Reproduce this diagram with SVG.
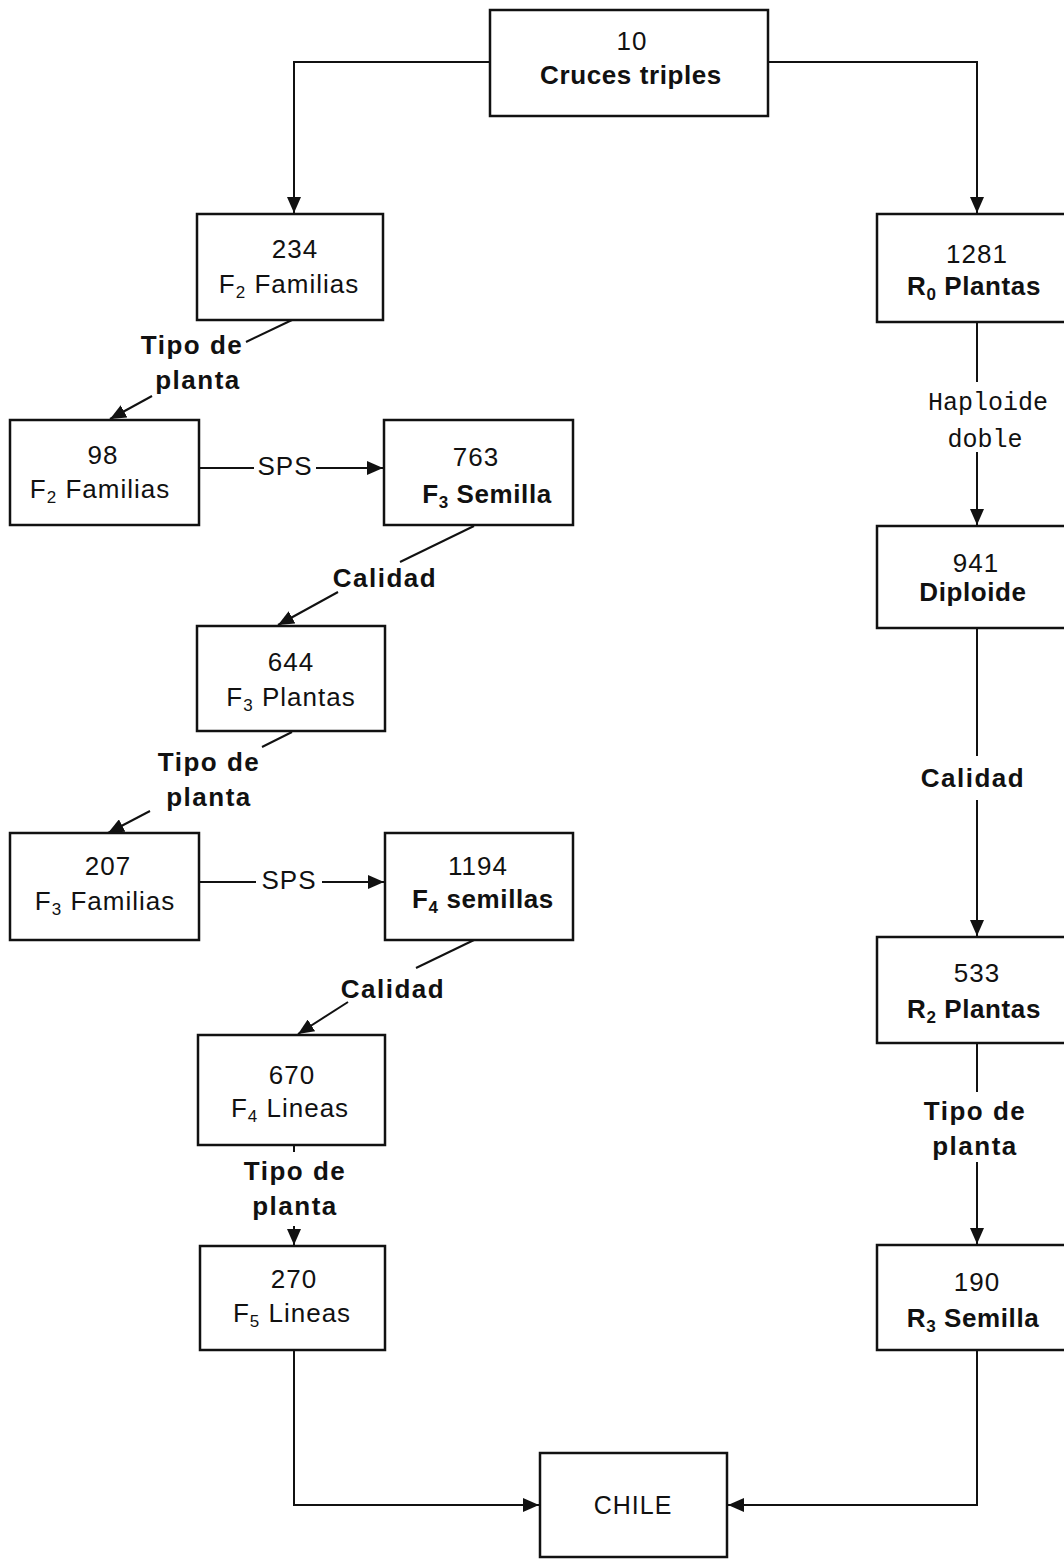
<svg xmlns="http://www.w3.org/2000/svg" width="1064" height="1559" viewBox="0 0 1064 1559">
<style>
.box{fill:#fff;stroke:#111;stroke-width:2.5}
.c{fill:none;stroke:#111;stroke-width:2}
.t{font-family:"Liberation Sans",Arial,sans-serif;font-size:26px;letter-spacing:1px;fill:#111;text-anchor:middle}
.b{font-weight:bold;letter-spacing:0.6px}
.lbl{font-family:"Liberation Sans",Arial,sans-serif;font-size:26px;letter-spacing:1.5px;font-weight:bold;fill:#111;text-anchor:middle}
.mono{font-family:"Liberation Mono","Courier New",monospace;font-size:25px;fill:#111;text-anchor:middle}
.sub{font-size:17px}
</style>
<defs>
<marker id="ah" viewBox="0 0 16 14" refX="16" refY="7" markerWidth="16" markerHeight="14" markerUnits="userSpaceOnUse" orient="auto">
<path d="M0,0 L16,7 L0,14 z" fill="#111"/>
</marker>
</defs>
<rect width="1064" height="1559" fill="#fff"/>
<g id="connectors">
<polyline class="c" points="490,62 294,62 294,213" marker-end="url(#ah)"/>
<polyline class="c" points="768,62 977,62 977,213" marker-end="url(#ah)"/>
<line class="c" x1="292" y1="320" x2="246" y2="342"/>
<line class="c" x1="152" y1="396" x2="110" y2="419" marker-end="url(#ah)"/>
<line class="c" x1="200" y1="468" x2="254" y2="468"/>
<line class="c" x1="316" y1="468" x2="383" y2="468" marker-end="url(#ah)"/>
<line class="c" x1="474" y1="526" x2="400" y2="562"/>
<line class="c" x1="338" y1="592" x2="278" y2="625" marker-end="url(#ah)"/>
<line class="c" x1="292" y1="732" x2="262" y2="747"/>
<line class="c" x1="150" y1="811" x2="108" y2="833" marker-end="url(#ah)"/>
<line class="c" x1="200" y1="882" x2="256" y2="882"/>
<line class="c" x1="322" y1="882" x2="384" y2="882" marker-end="url(#ah)"/>
<line class="c" x1="474" y1="940" x2="416" y2="968"/>
<line class="c" x1="348" y1="1002" x2="298" y2="1034" marker-end="url(#ah)"/>
<line class="c" x1="294" y1="1145" x2="294" y2="1152"/>
<line class="c" x1="294" y1="1226" x2="294" y2="1245" marker-end="url(#ah)"/>
<polyline class="c" points="294,1350 294,1505 539,1505" marker-end="url(#ah)"/>
<line class="c" x1="977" y1="322" x2="977" y2="382"/>
<line class="c" x1="977" y1="452" x2="977" y2="525" marker-end="url(#ah)"/>
<line class="c" x1="977" y1="628" x2="977" y2="756"/>
<line class="c" x1="977" y1="800" x2="977" y2="936" marker-end="url(#ah)"/>
<line class="c" x1="977" y1="1043" x2="977" y2="1092"/>
<line class="c" x1="977" y1="1162" x2="977" y2="1244" marker-end="url(#ah)"/>
<polyline class="c" points="977,1350 977,1505 728,1505" marker-end="url(#ah)"/>
</g>
<g id="labels">
<text class="lbl" x="192" y="354">Tipo de</text>
<text class="lbl" x="198" y="389">planta</text>
<text class="t" x="285" y="475">SPS</text>
<text class="lbl" x="385" y="587">Calidad</text>
<text class="lbl" x="209" y="771">Tipo de</text>
<text class="lbl" x="209" y="806">planta</text>
<text class="t" x="289" y="889">SPS</text>
<text class="lbl" x="393" y="998">Calidad</text>
<text class="lbl" x="295" y="1180">Tipo de</text>
<text class="lbl" x="295" y="1215">planta</text>
<text class="mono" x="988" y="410">Haploide</text>
<text class="mono" x="985" y="447">doble</text>
<text class="lbl" x="973" y="787">Calidad</text>
<text class="lbl" x="975" y="1120">Tipo de</text>
<text class="lbl" x="975" y="1155">planta</text>
</g>
<g id="n10">
<rect class="box" x="490" y="10" width="278" height="106"/>
<text class="t" x="632" y="50">10</text>
<text class="t b" x="631" y="84">Cruces triples</text>
</g>
<g id="n234">
<rect class="box" x="197" y="214" width="186" height="106"/>
<text class="t" x="295" y="258">234</text>
<text class="t" x="289" y="293">F<tspan class="sub" dy="5">2</tspan><tspan dy="-5"> Familias</tspan></text>
</g>
<g id="n98">
<rect class="box" x="10" y="420" width="189" height="105"/>
<text class="t" x="103" y="464">98</text>
<text class="t" x="100" y="498">F<tspan class="sub" dy="5">2</tspan><tspan dy="-5"> Familias</tspan></text>
</g>
<g id="n763">
<rect class="box" x="384" y="420" width="189" height="105"/>
<text class="t" x="476" y="466">763</text>
<text class="t b" x="487" y="503">F<tspan class="sub" dy="5">3</tspan><tspan dy="-5"> Semilla</tspan></text>
</g>
<g id="n644">
<rect class="box" x="197" y="626" width="188" height="105"/>
<text class="t" x="291" y="671">644</text>
<text class="t" x="291" y="706">F<tspan class="sub" dy="5">3</tspan><tspan dy="-5"> Plantas</tspan></text>
</g>
<g id="n207">
<rect class="box" x="10" y="833" width="189" height="107"/>
<text class="t" x="108" y="875">207</text>
<text class="t" x="105" y="910">F<tspan class="sub" dy="5">3</tspan><tspan dy="-5"> Familias</tspan></text>
</g>
<g id="n1194">
<rect class="box" x="385" y="833" width="188" height="107"/>
<text class="t" x="478" y="875">1194</text>
<text class="t b" x="483" y="908">F<tspan class="sub" dy="5">4</tspan><tspan dy="-5"> semillas</tspan></text>
</g>
<g id="n670">
<rect class="box" x="198" y="1035" width="187" height="110"/>
<text class="t" x="292" y="1084">670</text>
<text class="t" x="290" y="1117">F<tspan class="sub" dy="5">4</tspan><tspan dy="-5"> Lineas</tspan></text>
</g>
<g id="n270">
<rect class="box" x="200" y="1246" width="185" height="104"/>
<text class="t" x="294" y="1288">270</text>
<text class="t" x="292" y="1322">F<tspan class="sub" dy="5">5</tspan><tspan dy="-5"> Lineas</tspan></text>
</g>
<g id="nCHILE">
<rect class="box" x="540" y="1453" width="187" height="104"/>
<text class="t" x="633" y="1514" style="font-size:25px">CHILE</text>
</g>
<g id="n1281">
<rect class="box" x="877" y="214" width="200" height="108"/>
<text class="t" x="977" y="263">1281</text>
<text class="t b" x="974" y="295">R<tspan class="sub" dy="5">0</tspan><tspan dy="-5"> Plantas</tspan></text>
</g>
<g id="n941">
<rect class="box" x="877" y="526" width="200" height="102"/>
<text class="t" x="976" y="572">941</text>
<text class="t b" x="973" y="601">Diploide</text>
</g>
<g id="n533">
<rect class="box" x="877" y="937" width="200" height="106"/>
<text class="t" x="977" y="982">533</text>
<text class="t b" x="974" y="1018">R<tspan class="sub" dy="5">2</tspan><tspan dy="-5"> Plantas</tspan></text>
</g>
<g id="n190">
<rect class="box" x="877" y="1245" width="200" height="105"/>
<text class="t" x="977" y="1291">190</text>
<text class="t b" x="973" y="1327">R<tspan class="sub" dy="5">3</tspan><tspan dy="-5"> Semilla</tspan></text>
</g>
</svg>
